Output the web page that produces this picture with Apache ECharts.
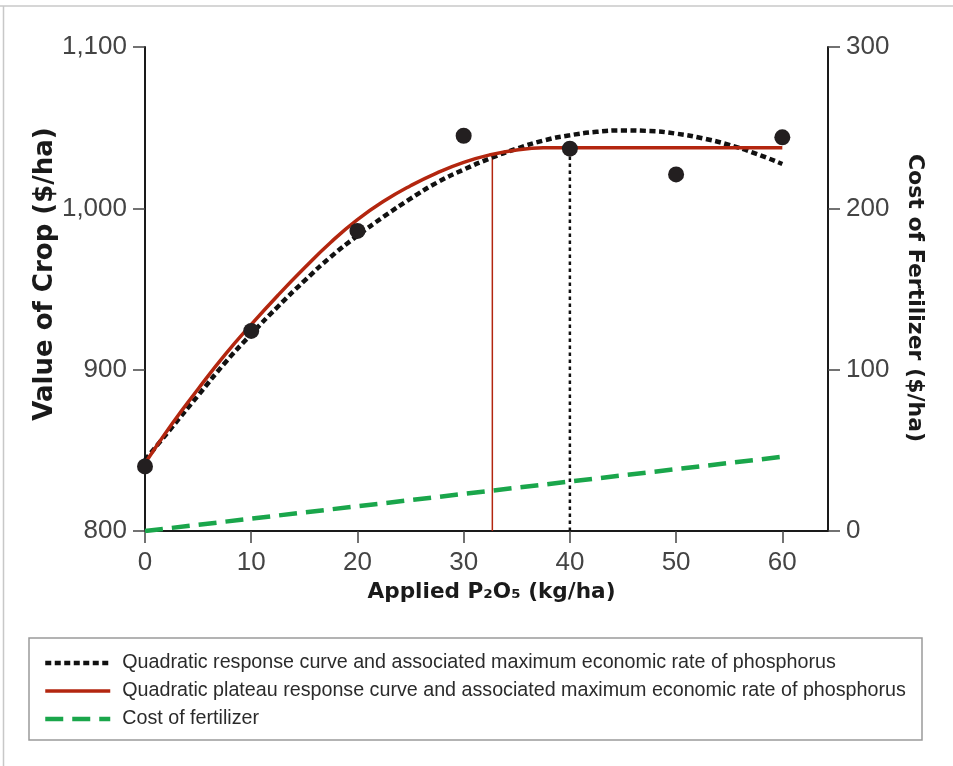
<!DOCTYPE html>
<html>
<head>
<meta charset="utf-8">
<script src="https://cdn.jsdelivr.net/npm/echarts@6.0.0/dist/echarts.min.js"></script>
<style>
  html, body { margin: 0; padding: 0; background: #fff; }
  #main { width: 953px; height: 766px; }
</style>
</head>
<body>
<div id="main"></div>
<script>
  // observed yields (value of crop)
  var rates = [0, 10, 20, 30, 40, 50, 60];
  var cropValue = [840, 924, 986, 1045, 1037, 1021, 1044];

  // curves, every 2.5 kg/ha
  var curveX = [0, 2.5, 5, 7.5, 10, 12.5, 15, 17.5, 20, 22.5, 25, 27.5, 30,
    32.5, 35, 37.5, 40, 42.5, 45, 47.5, 50, 52.5, 55, 57.5, 60];
  // quadratic response curve
  var quadY = [844, 864, 884, 904, 922, 939, 955, 970, 983, 995, 1006, 1016, 1024,
    1031, 1037, 1042, 1045.3, 1047.4, 1048.3, 1047.9, 1046.3, 1043.4, 1039.3, 1033.9, 1027.5];
  // quadratic plateau response curve
  var plateauY = [842, 866, 888, 909, 928, 946, 963, 979, 993, 1004.5, 1014, 1022, 1028.5,
    1033.2, 1036.2, 1037.5, 1037.6, 1037.6, 1037.6, 1037.6, 1037.6, 1037.6, 1037.6, 1037.6, 1037.6];

  // cost of fertilizer (right axis)
  var costX = [0, 60];
  var costY = [0, 46];

  // maximum economic rates
  var merQuad = [[40, 800], [40, 1038]];
  var merPlateau = [[32.7, 800], [32.7, 1034]];

  var xTicks = [0, 10, 20, 30, 40, 50, 60];

  var names = [
    'Quadratic response curve and associated maximum economic rate of phosphorus',
    'Quadratic plateau response curve and associated maximum economic rate of phosphorus',
    'Cost of fertilizer'
  ];

  function pairs(xs, ys) {
    return xs.map(function (x, i) { return [x, ys[i]]; });
  }

  var myChart = echarts.init(document.getElementById('main'));

  var tickFont = { fontFamily: 'Liberation Sans', fontSize: 26, color: '#444' };
  var titleFont = { fontFamily: 'DejaVu Sans', fontWeight: 'bold', color: '#1a1a1a' };

  var option = {
    animation: false,
    grid: { left: 145, right: 125, top: 47, bottom: 235, outerBoundsMode: 'none' },
    graphic: [
      { type: 'line', shape: { x1: 0, y1: 6, x2: 953, y2: 6 }, style: { stroke: '#c8c8c8', lineWidth: 1.5 } },
      { type: 'line', shape: { x1: 3.5, y1: 6, x2: 3.5, y2: 766 }, style: { stroke: '#c8c8c8', lineWidth: 1.5 } },
      { type: 'rect', shape: { x: 29, y: 638, width: 893, height: 102 }, style: { fill: 'none', stroke: '#9a9a9a', lineWidth: 1.5 } }
    ],
    legend: {
      orient: 'vertical',
      left: 38,
      top: 648,
      itemWidth: 65,
      itemHeight: 14,
      itemGap: 8,
      data: names,
      itemStyle: { color: 'rgba(0,0,0,0)', borderWidth: 0, opacity: 0 },
      lineStyle: { width: 'inherit' },
      textStyle: { fontFamily: 'Liberation Sans', fontSize: 19.7, color: '#2b2b2b', padding: [0, 0, 0, 7] }
    },
    xAxis: {
      type: 'value',
      min: 0,
      max: 64.3,
      interval: 10,
      name: 'Applied P₂O₅ (kg/ha)',
      nameLocation: 'middle',
      nameGap: 49,
      nameTextStyle: Object.assign({ fontSize: 21.6, padding: [0, 0, 0, 10] }, titleFont),
      axisLine: { show: true, onZero: false, lineStyle: { color: '#1a1a1a', width: 2 } },
      axisTick: { show: true, length: 12, customValues: xTicks, lineStyle: { color: '#444', width: 1.5 } },
      axisLabel: Object.assign({ margin: 19, customValues: xTicks }, tickFont),
      splitLine: { show: false }
    },
    yAxis: [
      {
        type: 'value',
        min: 800,
        max: 1100,
        interval: 100,
        name: 'Value of Crop ($/ha)',
        nameLocation: 'middle',
        nameRotate: 90,
        nameGap: 87,
        nameMoveOverlap: false,
        nameTextStyle: Object.assign({ fontSize: 26, padding: [0, 0, 0, 30] }, titleFont),
        axisLine: { show: true, lineStyle: { color: '#1a1a1a', width: 2 } },
        axisTick: { show: true, length: 12, lineStyle: { color: '#444', width: 1.5 } },
        axisLabel: Object.assign({
          margin: 18,
          formatter: function (v) { return v.toLocaleString('en-US'); }
        }, tickFont),
        splitLine: { show: false }
      },
      {
        type: 'value',
        min: 0,
        max: 300,
        interval: 100,
        position: 'right',
        name: 'Cost of Fertilizer ($/ha)',
        nameLocation: 'middle',
        nameRotate: -90,
        nameGap: 76,
        nameTextStyle: Object.assign({ fontSize: 22, padding: [0, 0, 0, 18] }, titleFont),
        axisLine: { show: true, lineStyle: { color: '#1a1a1a', width: 2 } },
        axisTick: { show: true, length: 12, lineStyle: { color: '#444', width: 1.5 } },
        axisLabel: Object.assign({ margin: 18 }, tickFont),
        splitLine: { show: false }
      }
    ],
    series: [
      {
        name: names[0],
        type: 'line',
        smooth: true,
        symbol: 'none',
        data: pairs(curveX, quadY),
        lineStyle: { color: '#111', width: 4.5, type: [6, 3.5] },
        itemStyle: { color: '#111' },
        z: 3
      },
      {
        name: names[1],
        type: 'line',
        smooth: true,
        symbol: 'none',
        data: pairs(curveX, plateauY),
        lineStyle: { color: '#b3260f', width: 3.5 },
        itemStyle: { color: '#b3260f' },
        z: 4
      },
      {
        name: names[2],
        type: 'line',
        yAxisIndex: 1,
        symbol: 'none',
        data: pairs(costX, costY),
        lineStyle: { color: '#1aa64b', width: 4.5, type: [18, 9] },
        itemStyle: { color: '#1aa64b' },
        z: 3
      },
      {
        name: 'mer-quad',
        type: 'line',
        symbol: 'none',
        data: merQuad,
        lineStyle: { color: '#111', width: 2.5, type: [3.5, 3.5] },
        z: 2
      },
      {
        name: 'mer-plateau',
        type: 'line',
        symbol: 'none',
        data: merPlateau,
        lineStyle: { color: '#b3260f', width: 1.5 },
        z: 2
      },
      {
        name: 'observed',
        type: 'scatter',
        symbolSize: 16,
        data: pairs(rates, cropValue),
        itemStyle: { color: '#231f20', opacity: 1 },
        z: 6
      }
    ]
  };

  myChart.setOption(option);
</script>
</body>
</html>
